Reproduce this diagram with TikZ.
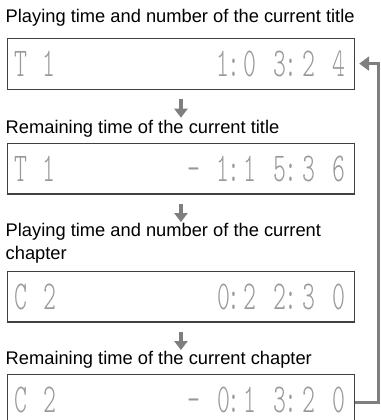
\documentclass[tikz,border=0pt]{standalone}
\usepackage{fontspec}
\setmainfont{Liberation Sans}
\newfontfamily\lcdfont{lmmonolt10-regular.otf}
\usetikzlibrary{arrows.meta}
\definecolor{arrowgray}{HTML}{7F7F7F}
\definecolor{framegray}{HTML}{404040}
\definecolor{lcdgray}{HTML}{999999}
\begin{document}
\begin{tikzpicture}[x=1pt,y=-1pt,
  capt/.style={anchor=base west, inner sep=0pt, font=\fontsize{18.3}{23}\selectfont, align=left},
  dispbox/.style={draw=framegray, line width=1.2pt, anchor=north west, minimum width=347.3pt, minimum height=50.7pt, inner sep=0pt},
  seg/.style={font=\lcdfont\fontsize{41}{41}\selectfont, text=lcdgray, anchor=base, inner sep=0pt, xscale=0.6},
  flowarrow/.style={draw=arrowgray, line width=4pt, -{Triangle[width=13pt,length=9pt]}},
  backline/.style={draw=arrowgray, line width=3pt, -{Triangle[width=14pt,length=10pt]}, shorten >=4pt},
]
\clip (0,0) rectangle (380,420);
\useasboundingbox (0,0) rectangle (380,420);

% captions
\node[capt] (c1) at (5.5,22.5) {Playing time and number of the current title};
\node[capt] (c2) at (5.5,133.3) {Remaining time of the current title};
\node[capt] (c3) at (5.5,259.7) {Playing time and number of the current\\chapter};
\node[capt] (c4) at (5.5,364) {Remaining time of the current chapter};

% display boxes
\node[dispbox] (b1) at (6.7,38.3) {};
\node[dispbox] (b2) at (6.7,142.7) {};
\node[dispbox] (b3) at (6.7,270.7) {};
\node[dispbox] (b4) at (6.7,374) {};

% display characters
\foreach \x/\c [count=\i] in {21/T,49/1,223/1,233.5/:,250/0,280/3,291/:,308.5/2,338.5/4}
  \node[seg] (d1-\i) at (\x,76.7) {\c};
\foreach \x/\c [count=\i] in {21/T,49/1,193.5/-,223/1,233.5/:,250/1,280/5,291/:,308.5/3,338.5/6}
  \node[seg] (d2-\i) at (\x,181.1) {\c};
\foreach \x/\c [count=\i] in {21/C,50/2,223.5/0,233.5/:,250/2,280/2,291/:,308.5/3,338.5/0}
  \node[seg] (d3-\i) at (\x,309.1) {\c};
\foreach \x/\c [count=\i] in {21/C,50/2,193.5/-,223.5/0,233.5/:,250/1,280/3,291/:,308.5/2,338.5/0}
  \node[seg] (d4-\i) at (\x,412.4) {\c};

% flow arrows
\draw[flowarrow] ([yshift=-9pt]b1.south) -- ([yshift=-27.5pt]b1.south);
\draw[flowarrow] ([yshift=-9pt]b2.south) -- ([yshift=-27.5pt]b2.south);
\draw[flowarrow] ([yshift=-9pt]b3.south) -- ([yshift=-27.5pt]b3.south);

% return connector
\coordinate (turn) at (378.5,63.6);
\draw[backline] ([yshift=-2.3pt]b4.east) -| (turn) -- (turn -| b1.east);
\end{tikzpicture}
\end{document}
